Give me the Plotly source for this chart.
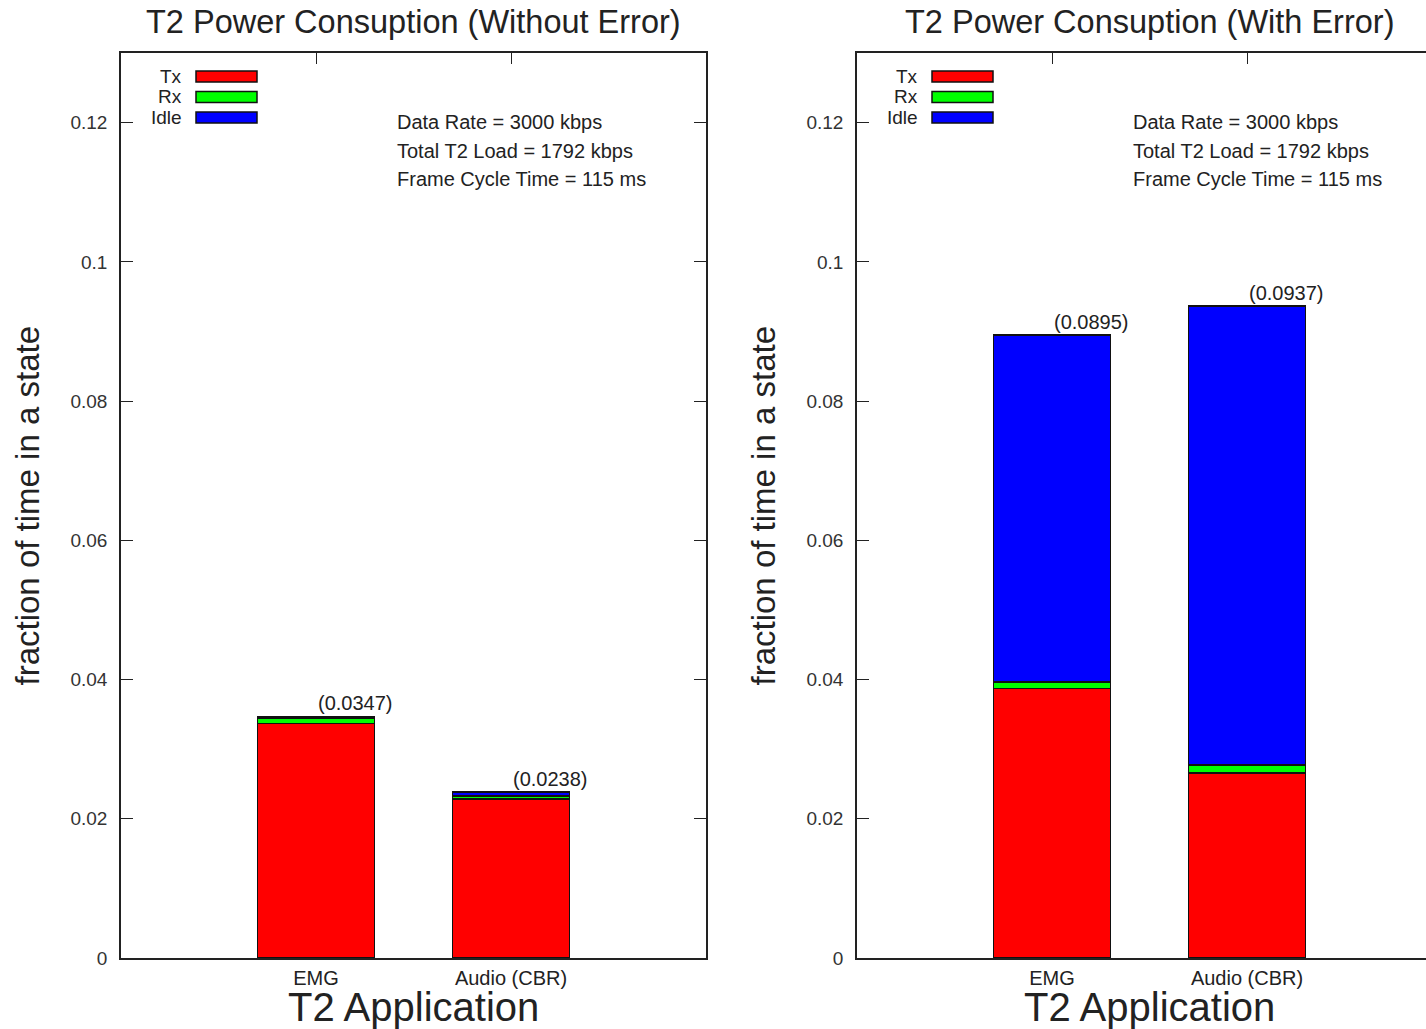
import plotly.graph_objects as go

# ---------------- data ----------------
categories = ["EMG", "Audio (CBR)"]
states = ["Tx", "Rx", "Idle"]
state_colors = ["#ff0000", "#00ff00", "#0000ff"]

# Without error
tx_noerr = [0.0337, 0.0228]
rx_noerr = [0.0008, 0.0005]
idle_noerr = [0.0002, 0.0005]
total_noerr = [0.0347, 0.0238]

# With error
tx_err = [0.0387, 0.0266]
rx_err = [0.0010, 0.0011]
idle_err = [0.0498, 0.0660]
total_err = [0.0895, 0.0937]

titles = ["T2 Power Consuption (Without Error)", "T2 Power Consuption (With Error)"]
x_title = "T2 Application"
y_title = "fraction of time in a state"
info_lines = ["Data Rate = 3000 kbps", "Total T2 Load = 1792 kbps", "Frame Cycle Time = 115 ms"]
y_ticks = [0, 0.02, 0.04, 0.06, 0.08, 0.1, 0.12]
y_ticktext = ["0", "0.02", "0.04", "0.06", "0.08", "0.1", "0.12"]

# ---------------- geometry ----------------
W, H = 1426, 1029
FONT = "Liberation Sans, Arial, Helvetica, sans-serif"
TXT = "#222222"
panel_px = [(121, 706), (857, 1426)]
unit_px = (706 - 121) / 3.0
top_px, bot_px = 53, 958
x_ranges = [[-1, 2], [-1, -1 + (1426 - 857) / unit_px]]


def px_x(p):
    return p / W


def px_y(p):
    return 1 - p / H


fig = go.Figure()

panels = [
    (tx_noerr, rx_noerr, idle_noerr, total_noerr),
    (tx_err, rx_err, idle_err, total_err),
]

for i, (tx, rx, idle, tot) in enumerate(panels):
    xa = "x" if i == 0 else "x2"
    ya = "y" if i == 0 else "y2"
    for name, vals, col in zip(states, [tx, rx, idle], state_colors):
        fig.add_trace(go.Bar(
            x=categories, y=vals, name=name, width=0.6,
            marker=dict(color=col, line=dict(color="#111111", width=1.8)),
            xaxis=xa, yaxis=ya, showlegend=False,
        ))
    for c, t in zip(categories, tot):
        fig.add_annotation(
            x=c, y=t, xref=xa, yref=ya, text="(%.4f)" % t,
            showarrow=False, xanchor="left", yanchor="bottom", yshift=0,
            font=dict(size=20, color=TXT, family=FONT),
        )

    L, R = panel_px[i]
    cx = L + 1.5 * unit_px
    fig.add_annotation(x=px_x(cx), y=px_y(22), xref="paper", yref="paper",
                       text=titles[i], showarrow=False, xanchor="center", yanchor="middle",
                       font=dict(size=32.5, color=TXT, family=FONT))
    fig.add_annotation(x=px_x(cx), y=px_y(1007), xref="paper", yref="paper",
                       text=x_title, showarrow=False, xanchor="center", yanchor="middle",
                       font=dict(size=40, color=TXT, family=FONT))
    fig.add_annotation(x=px_x(L - 94), y=px_y((top_px + bot_px) / 2), xref="paper", yref="paper",
                       text=y_title, showarrow=False, xanchor="center", yanchor="middle",
                       textangle=-90, font=dict(size=33, color=TXT, family=FONT))
    for k, line in enumerate(info_lines):
        fig.add_annotation(x=px_x(L + 274), y=px_y(122 + 28.5 * k), xref="paper", yref="paper",
                           text=line, showarrow=False, xanchor="left", yanchor="middle",
                           font=dict(size=20, color=TXT, family=FONT))
    for k, (name, col) in enumerate(zip(states, state_colors)):
        yt = 71 + 20.5 * k
        fig.add_shape(type="rect", xref="paper", yref="paper",
                      x0=px_x(L + 75), x1=px_x(L + 136), y0=px_y(yt), y1=px_y(yt + 11),
                      fillcolor=col, line=dict(color="#111111", width=1.5))
        fig.add_annotation(x=px_x(L + 63), y=px_y(yt + 5.5), xref="paper", yref="paper",
                           text=name, showarrow=False, xanchor="right", yanchor="middle",
                           font=dict(size=19, color=TXT, family=FONT))

ydom = [px_y(bot_px), px_y(top_px)]
common_x = dict(showline=True, linecolor="#222222", linewidth=1.6, mirror="ticks",
                ticks="inside", ticklen=11, tickcolor="#222222", tickwidth=1.4,
                showgrid=False, zeroline=False, type="category", layer="below traces",
                automargin=False,
                tickfont=dict(size=20, color=TXT, family=FONT), ticklabelstandoff=1)
common_y = dict(showline=True, linecolor="#222222", linewidth=1.6,
                ticks="inside", ticklen=12, tickcolor="#222222", tickwidth=1.4,
                showgrid=False, zeroline=False, range=[0, 0.13], automargin=False,
                tickvals=y_ticks, ticktext=y_ticktext,
                tickfont=dict(size=19, color="#333333", family=FONT), ticklabelstandoff=8)

fig.update_layout(
    width=W, height=H,
    autosize=False,
    margin=dict(l=0, r=0, t=0, b=0, pad=0),
    paper_bgcolor="white", plot_bgcolor="white",
    barmode="stack",
    showlegend=False,
    xaxis=dict(domain=[px_x(panel_px[0][0]), px_x(panel_px[0][1])], range=x_ranges[0], **common_x),
    xaxis2=dict(domain=[px_x(panel_px[1][0]), 1.0], range=x_ranges[1], anchor="y2", **common_x),
    yaxis=dict(domain=ydom, anchor="x", mirror="ticks", **common_y),
    yaxis2=dict(domain=ydom, anchor="x2", mirror=False, **common_y),
)

fig.write_html(
    "out.html",
    config={"displayModeBar": False, "responsive": False},
    post_script="document.body.style.margin='0';document.body.style.overflow='hidden';",
)
